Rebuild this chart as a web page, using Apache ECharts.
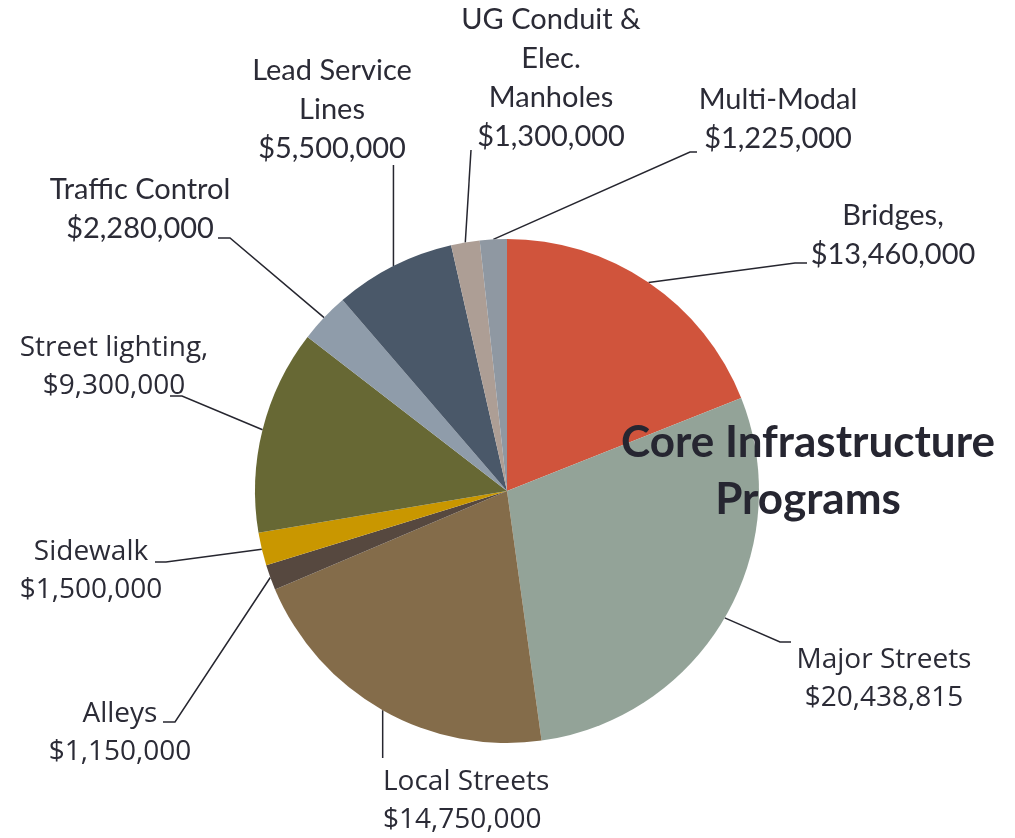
<!DOCTYPE html>
<html><head><meta charset="utf-8">
<script src="https://cdn.jsdelivr.net/npm/echarts@6/dist/echarts.min.js"></script>
<style>html,body{margin:0;padding:0;background:#fff}#c{width:1015px;height:838px}</style>
</head><body><div id="c"></div>
<script>
// ---- data ----
const categories = ["Bridges", "Major Streets", "Local Streets", "Alleys", "Sidewalk",
  "Street lighting", "Traffic Control", "Lead Service Lines", "UG Conduit & Elec. Manholes", "Multi-Modal"];
const labelTexts = ["Bridges,", "Major Streets", "Local Streets", "Alleys", "Sidewalk",
  "Street lighting,", "Traffic Control", "Lead Service\nLines", "UG Conduit &\nElec.\nManholes", "Multi-Modal"];
const values = [13460000, 20438815, 14750000, 1150000, 1500000, 9300000, 2280000, 5500000, 1300000, 1225000];
const titleText = "Core Infrastructure\nPrograms";

// ---- styles / layout (not data) ----
const colors = ["#D0543C", "#93A398", "#846C4A", "#56483F", "#C99700", "#676834", "#8F9CAA", "#4A5869", "#AD9E95", "#8F98A2"];
const narrow = "Lato, sans-serif";
const wide = "'Open Sans', 'Noto Sans', sans-serif";
const labelFonts = [narrow, wide, wide, wide, wide, wide, narrow, narrow, narrow, narrow];
const labelLayouts = [
  {x: 893, y: 235, align: 'center', pts: [[795, 263], [807, 263]]},
  {x: 884, y: 679, align: 'center', pts: [[780, 642], [791, 642]]},
  {x: 383, y: 801, align: 'left',   pts: [null, [383, 758]]},
  {x: 120, y: 733, align: 'center', pts: [[175, 722], [163, 722]]},
  {x: 91,  y: 571, align: 'center', pts: [[166, 562], [155, 562]]},
  {x: 114, y: 367, align: 'center', pts: [[182, 396], [170, 396]]},
  {x: 140, y: 209, align: 'center', pts: [[230, 238], [218, 238]]},
  {x: 332, y: 110, align: 'center', pts: [null, [null, 165]]},
  {x: 551, y: 78,  align: 'center', pts: [[471, 150], [471, 150]]},
  {x: 778, y: 119, align: 'center', pts: [[690, 152], [697, 152]]}
];
const textColor = "#2B2B36";

const chart = echarts.init(document.getElementById('c'), null, {renderer: 'canvas'});
const fmt = v => '$' + v.toLocaleString('en-US');

chart.setOption({
  animation: false,
  backgroundColor: '#fff',
  title: {
    text: titleText,
    left: 803, top: 409,
    textAlign: 'center',
    textStyle: {fontFamily: "Lato, sans-serif", fontWeight: 'bold', fontSize: 44, lineHeight: 57, color: '#262631'},
    z: 10
  },
  series: [{
    type: 'pie',
    center: [507, 491],
    radius: [0, 252],
    startAngle: 90,
    clockwise: true,
    avoidLabelOverlap: false,
    itemStyle: {borderWidth: 0},
    label: {show: true, position: 'outside', color: textColor},
    labelLine: {show: true, lineStyle: {color: '#26262F', width: 1.5}, length: 10, length2: 10},
    labelLayout: function (params) {
      const L = labelLayouts[params.dataIndex];
      const p0 = params.labelLinePoints ? params.labelLinePoints[0] : [0, 0];
      const pts = [p0.slice()];
      L.pts.forEach(p => {
        if (p === null) return;
        pts.push([p[0] === null ? p0[0] : p[0], p[1] === null ? p0[1] : p[1]]);
      });
      if (L.pts[0] === null) { pts[1] = [p0[0], L.pts[1][1]]; }
      return {x: L.x, y: L.y, align: L.align, verticalAlign: 'middle', labelLinePoints: pts, hideOverlap: false, moveOverlap: false};
    },
    data: categories.map((c, i) => ({
      name: c,
      value: values[i],
      itemStyle: {color: colors[i]},
      label: {
        formatter: labelTexts[i] + '\n' + fmt(values[i]),
        fontFamily: labelFonts[i],
        fontSize: labelFonts[i] === narrow ? 29 : 28,
        lineHeight: labelFonts[i] === narrow ? 39 : 38,
        align: labelLayouts[i].align
      }
    }))
  }]
});
</script>
</body></html>
